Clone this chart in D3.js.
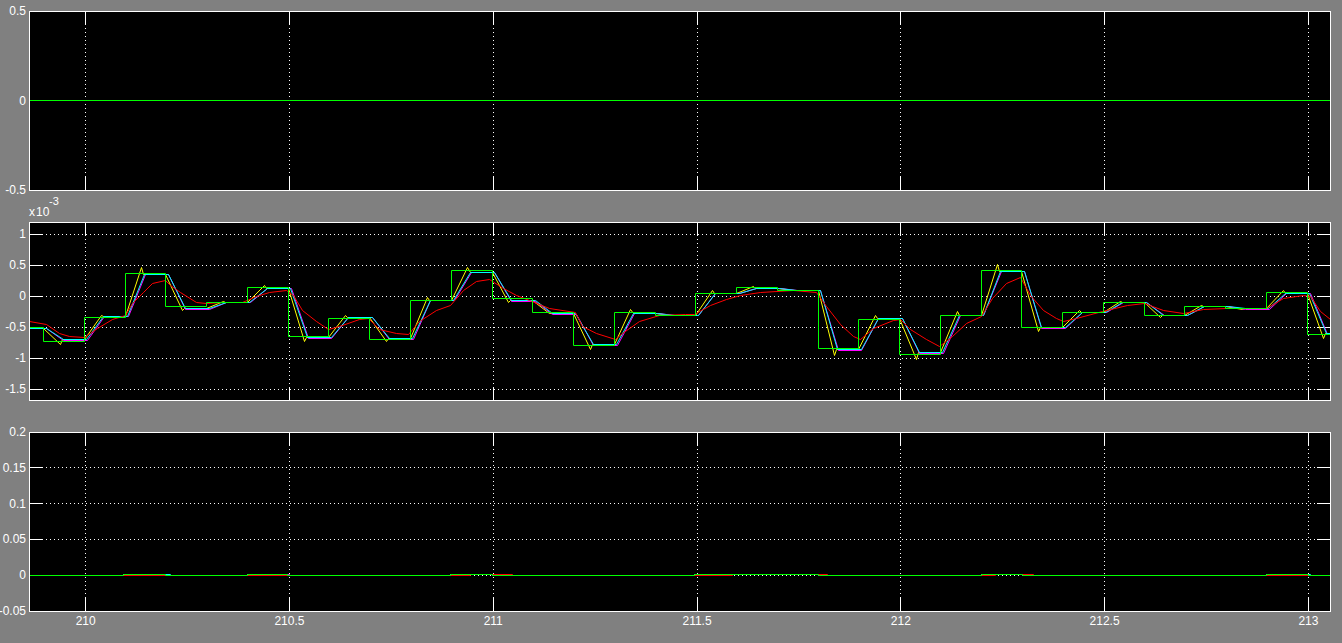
<!DOCTYPE html>
<html><head><meta charset="utf-8">
<script src="https://cdn.jsdelivr.net/npm/d3@7"></script>
<style>
html,body{margin:0;padding:0;background:#808080;}
svg{display:block;}
text{font-family:"Liberation Sans",Arial,sans-serif;font-size:12px;fill:#fff;}
</style></head><body>
<svg id="c" width="1342" height="643"></svg>
<script>
// ---------- data ----------
const timeDomain = [209.861, 213.053];
const xTicks = [210, 210.5, 211, 211.5, 212, 212.5, 213];
const xTickLabels = ["210", "210.5", "211", "211.5", "212", "212.5", "213"];

const p1Domain = [-0.5, 0.5];
const p1Ticks = [-0.5, 0, 0.5];
const p1TickLabels = ["-0.5", "0", "0.5"];
const p1Times = [209.861, 213.053];
const p1Green = [0, 0];

const p2Domain = [-1.67, 1.2];
const p2Ticks = [-1.5, -1, -0.5, 0, 0.5, 1];
const p2TickLabels = ["-1.5", "-1", "-0.5", "0", "0.5", "1"];

const p3Domain = [-0.05, 0.2];
const p3Ticks = [-0.05, 0, 0.05, 0.1, 0.15, 0.2];
const p3TickLabels = ["-0.05", "0", "0.05", "0.1", "0.15", "0.2"];

// sample instants of the held signal (panel 2)
const stepTimes = [209.897, 209.997, 210.097, 210.197, 210.297, 210.397, 210.497, 210.597,
  210.697, 210.797, 210.897, 210.997, 211.097, 211.197, 211.297, 211.397, 211.497, 211.597,
  211.697, 211.797, 211.897, 211.997, 212.097, 212.197, 212.297, 212.397, 212.497, 212.597,
  212.697, 212.797, 212.897, 212.997];
// green (held) levels, x1e-3; first is the level before the first step
const greenLevels = [-0.50, -0.73, -0.34, 0.37, -0.17, -0.10, 0.145, -0.65, -0.36, -0.69, -0.07,
  0.41, -0.04, -0.26, -0.79, -0.26, -0.30, 0.05, 0.145, 0.10, -0.84, -0.37, -0.93, -0.30, 0.42,
  -0.50, -0.26, -0.10, -0.30, -0.17, -0.20, 0.065, -0.61];
// cyan settled levels
const cyanLevels = [-0.52, -0.70, -0.32, 0.35, -0.20, -0.10, 0.13, -0.66, -0.34, -0.68, -0.06,
  0.38, -0.07, -0.27, -0.77, -0.27, -0.30, 0.04, 0.12, 0.10, -0.85, -0.36, -0.90, -0.30, 0.40,
  -0.50, -0.26, -0.10, -0.30, -0.17, -0.20, 0.05, -0.60];
// magenta settled levels
const magentaLevels = [-0.52, -0.715, -0.32, 0.35, -0.215, -0.10, 0.13, -0.675, -0.34, -0.695,
  -0.06, 0.38, -0.085, -0.285, -0.785, -0.27, -0.315, 0.04, 0.12, 0.09, -0.865, -0.36, -0.915,
  -0.30, 0.40, -0.515, -0.26, -0.10, -0.315, -0.17, -0.215, 0.05, -0.615];
// yellow spike tips at the end of each ramp
const yellowPeaks = [-0.78, -0.30, 0.46, -0.23, -0.08, 0.17, -0.73, -0.31, -0.73, -0.02, 0.46,
  -0.10, -0.28, -0.86, -0.21, -0.31, 0.10, 0.16, 0.09, -0.96, -0.30, -1.02, -0.24, 0.52, -0.57,
  -0.22, -0.08, -0.34, -0.15, -0.21, 0.09, -0.68];
// red (smooth) signal
const redTimes = [209.861, 209.904, 209.937, 209.961, 209.998, 210.030, 210.067, 210.098, 210.116,
  210.141, 210.165, 210.195, 210.207, 210.232, 210.272, 210.297, 210.337, 210.386, 210.420, 210.452,
  210.493, 210.509, 210.533, 210.567, 210.595, 210.624, 210.673, 210.693, 210.722, 210.763, 210.793,
  210.820, 210.861, 210.894, 210.926, 210.959, 210.992, 211.024, 211.058, 211.090, 211.139, 211.201,
  211.220, 211.254, 211.299, 211.318, 211.360, 211.409, 211.471, 211.495, 211.532, 211.573, 211.606,
  211.655, 211.736, 211.794, 211.818, 211.851, 211.883, 211.900, 211.932, 211.981, 211.998, 212.023,
  212.064, 212.096, 212.128, 212.162, 212.199, 212.226, 212.260, 212.293, 212.317, 212.349, 212.383,
  212.398, 212.432, 212.496, 212.555, 212.597, 212.644, 212.693, 212.742, 212.800, 212.897, 212.938,
  212.987, 213.004, 213.029, 213.053];
const redValues = [-0.41, -0.45, -0.60, -0.64, -0.66, -0.52, -0.38, -0.31, -0.11,
  0.07, 0.21, 0.26, 0.18, 0.06, -0.09, -0.12, -0.10, -0.09, 0.00, 0.07,
  0.09, 0.02, -0.22, -0.41, -0.54, -0.48, -0.38, -0.36, -0.54, -0.60, -0.62,
  -0.41, -0.22, -0.14, 0.10, 0.24, 0.27, 0.13, 0.02, -0.06, -0.19, -0.26,
  -0.49, -0.60, -0.69, -0.59, -0.41, -0.30, -0.29, -0.29, -0.14, -0.05, 0.02,
  0.07, 0.09, 0.06, -0.17, -0.46, -0.64, -0.70, -0.52, -0.39, -0.37, -0.54,
  -0.70, -0.80, -0.64, -0.44, -0.33, -0.03, 0.21, 0.31, 0.02, -0.22, -0.36,
  -0.41, -0.35, -0.25, -0.14, -0.11, -0.23, -0.27, -0.21, -0.19, -0.19, -0.03,
  0.02, 0.00, -0.25, -0.38];

// panel 3: tiny positive blips (all else 0)
const p3Blip = 0.0014;
const p3GreenUp = [[210.094, 210.197], [210.396, 210.496], [210.896, 210.997], [211.495, 211.799], [212.197, 212.298], [212.897, 213.000]];
const p3YellowUp = [[210.094, 210.197], [210.396, 210.496], [210.896, 210.997], [211.495, 211.799], [212.197, 212.298], [212.897, 213.000]];
const p3MagentaUp = [[210.094, 210.197], [210.396, 210.501], [210.896, 210.997], [211.495, 211.799], [212.197, 212.298], [212.897, 213.000]];
const p3CyanUp = [[210.094, 210.207], [210.396, 210.496], [210.896, 210.997], [211.495, 211.799], [212.197, 212.298], [212.897, 213.005]];
const p3RedUp = [[210.943, 211.048], [211.588, 211.819], [212.232, 212.325]];

// ---------- layout ----------
const W = 1342, H = 643;
const left = 29, right = 1330, tickLen = 13;
const panels = [
  {top: 11, bottom: 190, domain: p1Domain, ticks: p1Ticks, labels: p1TickLabels},
  {top: 222, bottom: 400, domain: p2Domain, ticks: p2Ticks, labels: p2TickLabels},
  {top: 432, bottom: 611, domain: p3Domain, ticks: p3Ticks, labels: p3TickLabels}
];
const colors = {yellow: "#ffff00", magenta: "#ff00ff", cyan: "#00ffff", red: "#ff0000", green: "#00ff00"};

const svg = d3.select("#c");
svg.append("rect").attr("width", W).attr("height", H).attr("fill", "#808080");
const x = d3.scaleLinear().domain(timeDomain).range([left, right]);
const snap = v => Math.floor(v) + 0.5;

panels.forEach(p => {
  p.y = d3.scaleLinear().domain(p.domain).range([p.bottom, p.top]);
});

// series builders
function pts(ts, vs) { return ts.map((t, i) => [t, vs[i]]); }
function heldPoints(levels) {
  const out = [[timeDomain[0], levels[0]]];
  stepTimes.forEach((t, j) => out.push([t, levels[j + 1]]));
  out.push([timeDomain[1], levels[levels.length - 1]]);
  return out;
}
function rampPoints(levels, d0, d1) {
  const out = [[timeDomain[0], levels[0]]];
  stepTimes.forEach((t, j) => { out.push([t + d0, levels[j]]); out.push([t + d1, levels[j + 1]]); });
  out.push([timeDomain[1], levels[levels.length - 1]]);
  return out;
}
function spikePoints(levels, peaks) {
  const out = [[timeDomain[0], levels[0]]];
  stepTimes.forEach((t, j) => {
    out.push([t, levels[j]]);
    out.push([t + 0.041, peaks[j]]);
    out.push([t + 0.046, levels[j + 1]]);
  });
  out.push([timeDomain[1], levels[levels.length - 1]]);
  return out;
}
function blipPoints(intervals) {
  const out = [[timeDomain[0], 0]];
  intervals.forEach(([a, b]) => { out.push([a, p3Blip]); out.push([b, 0]); });
  out.push([timeDomain[1], 0]);
  return out;
}

const series = [
  [ {d: pts(p1Times, p1Green), c: colors.green, step: false} ],
  [
    {d: spikePoints(cyanLevels, yellowPeaks), c: colors.yellow, step: false},
    {d: rampPoints(magentaLevels, 0.007, 0.049), c: colors.magenta, step: false},
    {d: rampPoints(cyanLevels, 0.006, 0.048), c: colors.cyan, step: false},
    {d: pts(redTimes, redValues), c: colors.red, step: false},
    {d: heldPoints(greenLevels), c: colors.green, step: true}
  ],
  [
    {d: blipPoints(p3YellowUp), c: colors.yellow, step: true},
    {d: blipPoints(p3MagentaUp), c: colors.magenta, step: true},
    {d: blipPoints(p3CyanUp), c: colors.cyan, step: true},
    {d: blipPoints(p3RedUp), c: colors.red, step: true},
    {d: blipPoints(p3GreenUp), c: colors.green, step: true}
  ]
];

panels.forEach((p, i) => {
  const g = svg.append("g");
  g.append("rect").attr("x", left).attr("y", p.top).attr("width", right - left).attr("height", p.bottom - p.top).attr("fill", "#000");
  const cid = "clip" + i;
  svg.append("defs").append("clipPath").attr("id", cid).append("rect")
    .attr("x", left + 1).attr("y", p.top + 1).attr("width", right - left - 1).attr("height", p.bottom - p.top - 1);

  // grid (dotted)
  const grid = g.append("g").attr("stroke", "#fff").attr("stroke-width", 1).attr("stroke-dasharray", "1,3").attr("shape-rendering", "crispEdges");
  xTicks.forEach(t => {
    const xx = snap(x(t));
    grid.append("line").attr("x1", xx).attr("x2", xx).attr("y1", p.top + tickLen).attr("y2", p.bottom - tickLen);
  });
  p.ticks.forEach(v => {
    const yy = snap(p.y(v));
    if (yy <= p.top + 1 || yy >= p.bottom) return;
    grid.append("line").attr("x1", left + tickLen).attr("x2", right - tickLen).attr("y1", yy).attr("y2", yy);
  });

  // tick marks (inside, all four sides)
  const tk = g.append("g").attr("stroke", "#fff").attr("stroke-width", 1).attr("shape-rendering", "crispEdges");
  xTicks.forEach(t => {
    const xx = snap(x(t));
    tk.append("line").attr("x1", xx).attr("x2", xx).attr("y1", p.top).attr("y2", p.top + tickLen);
    tk.append("line").attr("x1", xx).attr("x2", xx).attr("y1", p.bottom - tickLen).attr("y2", p.bottom);
  });
  p.ticks.forEach(v => {
    const yy = snap(p.y(v));
    tk.append("line").attr("x1", left).attr("x2", left + tickLen).attr("y1", yy).attr("y2", yy);
    tk.append("line").attr("x1", right - tickLen).attr("x2", right).attr("y1", yy).attr("y2", yy);
  });

  // data (coordinates snapped to pixel centres)
  const dg = g.append("g").attr("clip-path", `url(#${cid})`);
  series[i].forEach(s => {
    const line = d3.line().x(d => snap(x(d[0]))).y(d => snap(p.y(d[1])));
    if (s.step) line.curve(d3.curveStepAfter);
    dg.append("path").attr("d", line(s.d)).attr("fill", "none").attr("stroke", s.c)
      .attr("stroke-width", 1);
  });

  // box
  g.append("rect").attr("x", left + 0.5).attr("y", p.top + 0.5).attr("width", right - left).attr("height", p.bottom - p.top)
    .attr("fill", "none").attr("stroke", "#fff").attr("stroke-width", 1).attr("shape-rendering", "crispEdges");

  // y labels
  p.ticks.forEach((v, k) => {
    g.append("text").attr("x", 26).attr("y", p.y(v)).attr("text-anchor", "end")
      .attr("dominant-baseline", "central").text(p.labels[k]);
  });
});

// x labels (bottom panel only)
xTicks.forEach((t, k) => {
  svg.append("text").attr("x", x(t)).attr("y", 625).attr("text-anchor", "middle").text(xTickLabels[k]);
});

// exponent label for panel 2
svg.append("text").attr("x", 29).attr("y", 216).text("x");
svg.append("text").attr("x", 36).attr("y", 216).text("10");
svg.append("text").attr("x", 49).attr("y", 205).style("font-size", "11px").text("-3");
</script>
</body></html>
